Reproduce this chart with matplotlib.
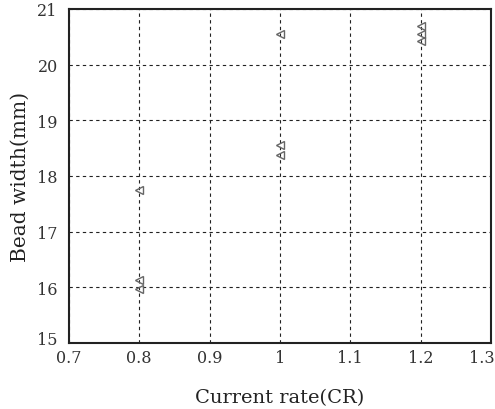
import matplotlib
matplotlib.use("Agg")
import matplotlib.pyplot as plt
from matplotlib.transforms import ScaledTranslation

# Measured bead widths by current rate
cr_08 = [0.8, 0.8, 0.8]
bw_08 = [17.75, 16.13, 15.97]
cr_10 = [1.0, 1.0, 1.0]
bw_10 = [20.55, 18.55, 18.38]
cr_12 = [1.2, 1.2, 1.2]
bw_12 = [20.70, 20.55, 20.42]

x_ticks = [0.7, 0.8, 0.9, 1.0, 1.1, 1.2, 1.3]
x_tick_labels = ["0.7", "0.8", "0.9", "1", "1.1", "1.2", "1.3"]
y_ticks = [15, 16, 17, 18, 19, 20, 21]

plt.rcParams['font.family'] = ['DejaVu Serif']

fig = plt.figure(figsize=(4.95, 4.1), dpi=100)
ax = fig.add_axes([0.139, 0.161, 0.853, 0.815])

for xs, ys in [(cr_08, bw_08), (cr_10, bw_10), (cr_12, bw_12)]:
    ax.plot(xs, ys, linestyle="none", marker="<", markersize=6,
            markerfacecolor="none", markeredgecolor="#666666", markeredgewidth=1.0)

ax.set_xlim(0.7, 1.3)
ax.set_ylim(15, 21)
ax.set_xticks(x_ticks)
ax.set_xticklabels(x_tick_labels)
ax.set_yticks(y_ticks)
ax.tick_params(length=0, labelsize=11.5, colors="#333333")
ax.tick_params(axis="x", pad=4)
ax.tick_params(axis="y", pad=8)
ax.grid(True, linestyle=(0, (3, 3)), color="#222222", linewidth=0.8)

# last x label sits flush with the right edge, bottom y label raised a bit
last = ax.get_xticklabels()[-1]
last.set_ha("right")
last.set_transform(last.get_transform() + ScaledTranslation(4 / 100, 0, fig.dpi_scale_trans))
first_y = ax.get_yticklabels()[0]
first_y.set_transform(first_y.get_transform() + ScaledTranslation(0, 5 / 100, fig.dpi_scale_trans))

for s in ax.spines.values():
    s.set_linewidth(1.5)
    s.set_color("#222222")

ax.set_xlabel("Current rate(CR)", fontsize=14, labelpad=16, color="#222222")
ax.set_ylabel("Bead width(mm)", fontsize=14.5, labelpad=5, color="#222222")

fig.savefig("out.png", dpi=100)
